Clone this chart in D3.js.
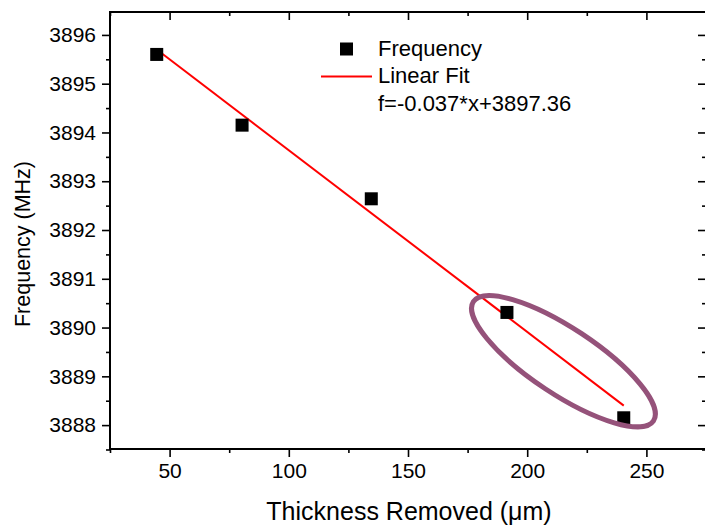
<!DOCTYPE html>
<html>
<head>
<meta charset="utf-8">
<script src="https://cdn.jsdelivr.net/npm/d3@7"></script>
<style>
  body { margin: 0; background: #fff; }
  svg { display: block; font-family: Arial, "Liberation Sans", sans-serif; }
</style>
</head>
<body>
<div id="chart"></div>
<script>
// measured points
const thickness = [44.6, 80.4, 134.6, 191.5, 240.5]
const frequency = [3895.60, 3894.15, 3892.64, 3890.31, 3888.15]

// linear fit segment f=-0.037*x+3897.36 (end points)
const fitX = [44.6, 240.5]
const fitY = [3895.70, 3888.40]

const xTicks = [50, 100, 150, 200, 250]
const xMinor = [25, 75, 125, 175, 225, 275]
const yTicks = [3888, 3889, 3890, 3891, 3892, 3893, 3894, 3895, 3896]
const yMinor = [3887.5, 3888.5, 3889.5, 3890.5, 3891.5, 3892.5, 3893.5, 3894.5, 3895.5]

// highlight ellipse round the last two points
const ringCenter = [215.2, 3889.31]

const width = 705
const height = 526
const margin = { top: 12, right: -1, bottom: 77, left: 110 }

const x = d3.scaleLinear().domain([25, 275]).range([margin.left, width - margin.right])
const y = d3.scaleLinear().domain([3887.51, 3896.47]).range([height - margin.bottom, margin.top])

const svg = d3.select('#chart')
  .append('svg')
  .attr('width', width)
  .attr('height', height)

const plotBottom = height - margin.bottom
const plotRight = width - margin.right

function drawAxes() {
  const bottom = svg.append('g').attr('transform', `translate(0,${plotBottom})`)
  bottom.call(d3.axisBottom(x).tickValues(xTicks).tickSize(8).tickPadding(6).tickFormat(d3.format('d')))
  bottom.append('g').call(d3.axisBottom(x).tickValues(xMinor).tickSize(4).tickFormat(''))

  const top = svg.append('g').attr('transform', `translate(0,${margin.top})`)
  top.call(d3.axisBottom(x).tickValues(xTicks).tickSize(8).tickFormat(''))
  top.append('g').call(d3.axisBottom(x).tickValues(xMinor).tickSize(4).tickFormat(''))

  const left = svg.append('g').attr('transform', `translate(${margin.left},0)`)
  left.call(d3.axisLeft(y).tickValues(yTicks).tickSize(8).tickPadding(6).tickFormat(d3.format('d')))
  left.append('g').call(d3.axisLeft(y).tickValues(yMinor).tickSize(4).tickFormat(''))

  const right = svg.append('g').attr('transform', `translate(${plotRight},0)`)
  right.call(d3.axisLeft(y).tickValues(yTicks).tickSize(8).tickFormat(''))
  right.append('g').call(d3.axisLeft(y).tickValues(yMinor).tickSize(4).tickFormat(''))

  svg.selectAll('.tick line').attr('stroke', '#000').attr('stroke-width', 1.6)
  svg.selectAll('.tick text')
    .attr('fill', '#000')
    .attr('font-size', 21)
    .attr('font-family', 'Arial, "Liberation Sans", sans-serif')

  // one frame instead of four domain paths
  svg.selectAll('.domain').attr('d', null)
  svg.append('rect')
    .attr('x', margin.left)
    .attr('y', margin.top)
    .attr('width', plotRight - margin.left)
    .attr('height', plotBottom - margin.top)
    .attr('fill', 'none')
    .attr('stroke', '#000')
    .attr('stroke-width', 2)
}

function drawTitles() {
  svg.append('text')
    .attr('x', (margin.left + plotRight) / 2 + 1)
    .attr('y', 520)
    .attr('text-anchor', 'middle')
    .attr('font-size', 25)
    .text('Thickness Removed (μm)')

  svg.append('text')
    .attr('transform', 'translate(30,244) rotate(-90)')
    .attr('text-anchor', 'middle')
    .attr('font-size', 21.5)
    .text('Frequency (MHz)')
}

function drawData() {
  const line = d3.line().x(d => x(d[0])).y(d => y(d[1]))
  svg.append('path')
    .attr('d', line(d3.zip(fitX, fitY)))
    .attr('fill', 'none')
    .attr('stroke', '#ff0000')
    .attr('stroke-width', 2)

  const s = 13
  svg.selectAll('.pt')
    .data(d3.zip(thickness, frequency))
    .enter()
    .append('rect')
    .attr('class', 'pt')
    .attr('x', d => x(d[0]) - s / 2)
    .attr('y', d => y(d[1]) - s / 2)
    .attr('width', s)
    .attr('height', s)
    .attr('fill', '#000')

  svg.append('ellipse')
    .attr('transform', `translate(${x(ringCenter[0])},${y(ringCenter[1])}) rotate(33.5)`)
    .attr('rx', 108)
    .attr('ry', 33)
    .attr('fill', 'none')
    .attr('stroke', '#95527a')
    .attr('stroke-width', 5)
}

function drawLegend() {
  const lg = svg.append('g')
  lg.append('rect')
    .attr('x', 340).attr('y', 42.5)
    .attr('width', 13).attr('height', 13)
    .attr('fill', '#000')
  lg.append('line')
    .attr('x1', 321).attr('x2', 372)
    .attr('y1', 76.5).attr('y2', 76.5)
    .attr('stroke', '#ff0000').attr('stroke-width', 2)

  const labels = ['Frequency', 'Linear Fit', 'f=-0.037*x+3897.36']
  lg.selectAll('text')
    .data(labels)
    .enter()
    .append('text')
    .attr('x', 378)
    .attr('y', (d, i) => 56 + i * 27.3)
    .attr('font-size', 22)
    .text(d => d)
}

drawAxes()
drawData()
drawTitles()
drawLegend()
</script>
</body>
</html>
